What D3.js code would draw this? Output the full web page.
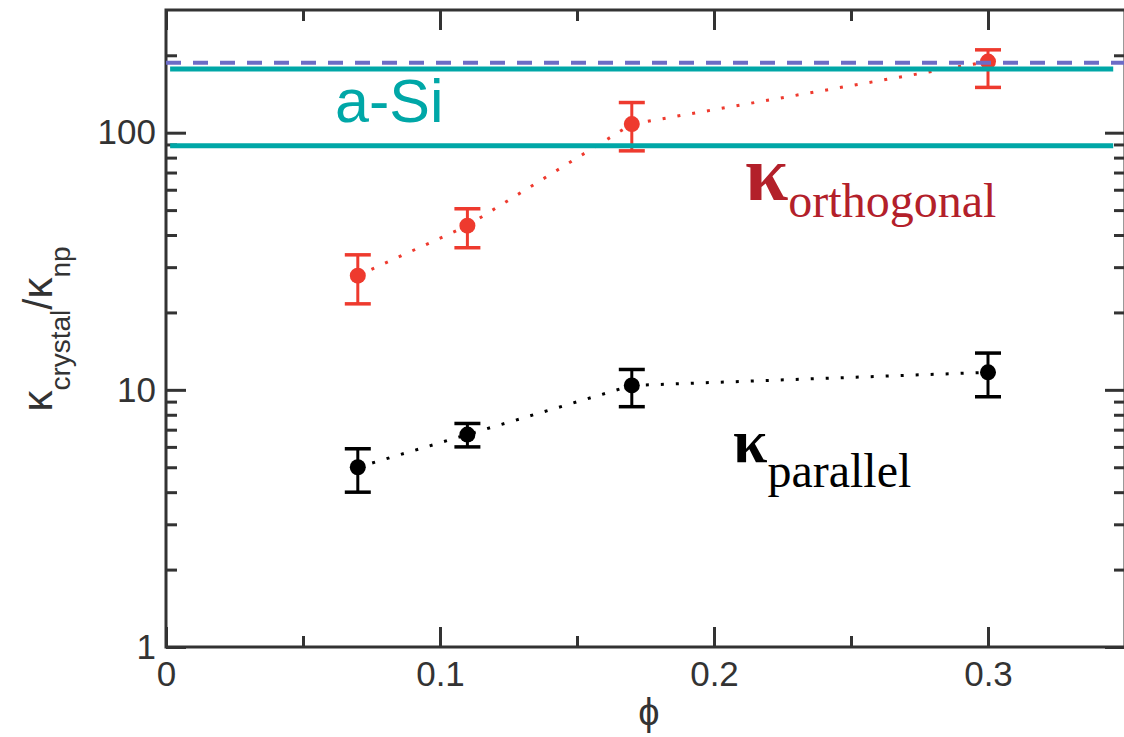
<!DOCTYPE html>
<html>
<head>
<meta charset="utf-8">
<script src="https://cdn.jsdelivr.net/npm/d3@7"></script>
<style>
  html, body { margin: 0; padding: 0; background: #fff; }
  svg { display: block; }
</style>
</head>
<body>
<svg id="chart" width="1124" height="737"></svg>
<script>
// ---------------- data ----------------
const phi = [0.07, 0.11, 0.17, 0.30];
const parallelVal = [5.0, 6.7, 10.4, 11.7];
const parallelLo  = [4.0, 6.0, 8.6, 9.4];
const parallelHi  = [5.9, 7.4, 12.0, 13.9];
const orthoVal = [27.8, 43.5, 108, 189];
const orthoLo  = [21.6, 35.7, 85, 150];
const orthoHi  = [33.5, 50.6, 131, 210];
const aSiLines = [177, 89];        // a-Si reference levels (solid teal)
const dashedLevel = 187;           // dashed reference level
const xTicksMajor = [0, 0.1, 0.2, 0.3];
const xTickLabels = ["0", "0.1", "0.2", "0.3"];
const xTicksMinor = [0.05, 0.15, 0.25];
const yTicksMajor = [1, 10, 100];
const yTickLabels = ["1", "10", "100"];
const yTicksMinor = [2,3,4,5,6,7,8,9,20,30,40,50,60,70,80,90,200];

// ---------------- layout ----------------
const L = 166, R = 1125, T = 10, B = 647;
const svg = d3.select("#chart");
const x = d3.scaleLinear().domain([0, 0.35]).range([L, R]);
const y = d3.scaleLog().domain([1, 300]).range([B, T]);

const axisColor = "#333";
const font = "'Liberation Sans', Arial, Helvetica, sans-serif";
const serif = "'Liberation Serif', 'Times New Roman', serif";

function styleAxis(g, labels) {
  g.select(".domain").remove();
  g.selectAll(".tick line").attr("stroke", axisColor).attr("stroke-width", 3);
  g.selectAll(".tick text").attr("fill", "#333").style("font-family", font).style("font-size", "35px");
  if (!labels) g.selectAll(".tick text").remove();
}

// bottom
svg.append("g").attr("transform", `translate(0,${B})`)
  .call(d3.axisBottom(x).tickValues(xTicksMajor).tickSize(-20).tickPadding(14)
    .tickFormat((d, i) => xTickLabels[i]))
  .call(g => styleAxis(g, true));
svg.append("g").attr("transform", `translate(0,${B})`)
  .call(d3.axisBottom(x).tickValues(xTicksMinor).tickSize(-11))
  .call(g => styleAxis(g, false));
// top
svg.append("g").attr("transform", `translate(0,${T})`)
  .call(d3.axisTop(x).tickValues(xTicksMajor).tickSize(-20))
  .call(g => styleAxis(g, false));
svg.append("g").attr("transform", `translate(0,${T})`)
  .call(d3.axisTop(x).tickValues(xTicksMinor).tickSize(-11))
  .call(g => styleAxis(g, false));
// left
svg.append("g").attr("transform", `translate(${L},0)`)
  .call(d3.axisLeft(y).tickValues(yTicksMajor).tickSize(-20).tickPadding(10)
    .tickFormat((d, i) => yTickLabels[i]))
  .call(g => styleAxis(g, true));
svg.append("g").attr("transform", `translate(${L},0)`)
  .call(d3.axisLeft(y).tickValues(yTicksMinor).tickSize(-11))
  .call(g => styleAxis(g, false));
// right
svg.append("g").attr("transform", `translate(${R},0)`)
  .call(d3.axisRight(y).tickValues(yTicksMajor).tickSize(-20))
  .call(g => styleAxis(g, false));
svg.append("g").attr("transform", `translate(${R},0)`)
  .call(d3.axisRight(y).tickValues(yTicksMinor).tickSize(-11))
  .call(g => styleAxis(g, false));

// frame
svg.append("rect").attr("x", L).attr("y", T).attr("width", R - L).attr("height", B - T)
  .attr("fill", "none").attr("stroke", axisColor).attr("stroke-width", 3);

// ---------------- series ----------------
function drawSeries(vals, lo, hi, color) {
  const pts = phi.map((p, i) => ({p, v: vals[i], lo: lo[i], hi: hi[i]}));
  const line = d3.line().x(d => x(d.p)).y(d => y(d.v));
  svg.append("path").datum(pts).attr("d", line).attr("fill", "none")
    .attr("stroke", color).attr("stroke-width", 3).attr("stroke-dasharray", "3,12");
  const g = svg.append("g");
  g.selectAll("line.v").data(pts).join("line")
    .attr("x1", d => x(d.p)).attr("x2", d => x(d.p))
    .attr("y1", d => y(d.lo)).attr("y2", d => y(d.hi))
    .attr("stroke", color).attr("stroke-width", 3);
  [d => d.lo, d => d.hi].forEach(acc => {
    g.selectAll(null).data(pts).join("line")
      .attr("x1", d => x(d.p) - 13).attr("x2", d => x(d.p) + 13)
      .attr("y1", d => y(acc(d))).attr("y2", d => y(acc(d)))
      .attr("stroke", color).attr("stroke-width", 3.5);
  });
  g.selectAll("circle").data(pts).join("circle")
    .attr("cx", d => x(d.p)).attr("cy", d => y(d.v)).attr("r", 8)
    .attr("fill", color);
}
drawSeries(orthoVal, orthoLo, orthoHi, "#ee3a2e");
drawSeries(parallelVal, parallelLo, parallelHi, "#000");

// dashed reference
svg.append("line").attr("x1", x(0)).attr("x2", x(0.35))
  .attr("y1", y(dashedLevel)).attr("y2", y(dashedLevel))
  .attr("stroke", "#6c6cc6").attr("stroke-width", 4).attr("stroke-dasharray", "15,12");
// a-Si lines
svg.selectAll("line.asi").data(aSiLines).join("line")
  .attr("x1", x(0.0015)).attr("x2", x(0.3457))
  .attr("y1", d => y(d)).attr("y2", d => y(d))
  .attr("stroke", "#00a7a7").attr("stroke-width", 5);

// ---------------- labels ----------------
svg.append("text").attr("x", 335).attr("y", 122)
  .style("font-family", font).style("font-size", "61px").attr("fill", "#00a7a7").text("a-Si");

const tOrth = svg.append("text").attr("x", 745).attr("y", 200)
  .style("font-family", serif).attr("fill", "#b3202a");
tOrth.append("tspan").style("font-size", "78px").style("font-weight", "bold").text("κ");
tOrth.append("tspan").style("font-size", "48px").attr("dy", 17).text("orthogonal");

const tPar = svg.append("text").attr("x", 733).attr("y", 462)
  .style("font-family", serif).attr("fill", "#000");
tPar.append("tspan").style("font-size", "62px").style("font-weight", "bold").text("κ");
tPar.append("tspan").style("font-size", "48px").attr("dy", 25).text("parallel");

// y label
const yl = svg.append("text").attr("transform", "translate(52,329) rotate(-90)")
  .attr("text-anchor", "middle").style("font-family", font).attr("fill", "#333");
yl.append("tspan").style("font-size", "42px").text("κ");
yl.append("tspan").style("font-size", "28px").attr("dy", 18).text("crystal");
yl.append("tspan").style("font-size", "40px").attr("dy", -18).text("/");
yl.append("tspan").style("font-size", "42px").text("κ");
yl.append("tspan").style("font-size", "28px").attr("dy", 18).text("np");

// x label
svg.append("text").attr("x", 649).attr("y", 725).attr("text-anchor", "middle")
  .style("font-family", font).style("font-size", "38px").attr("fill", "#333").text("ϕ");
</script>
</body>
</html>
